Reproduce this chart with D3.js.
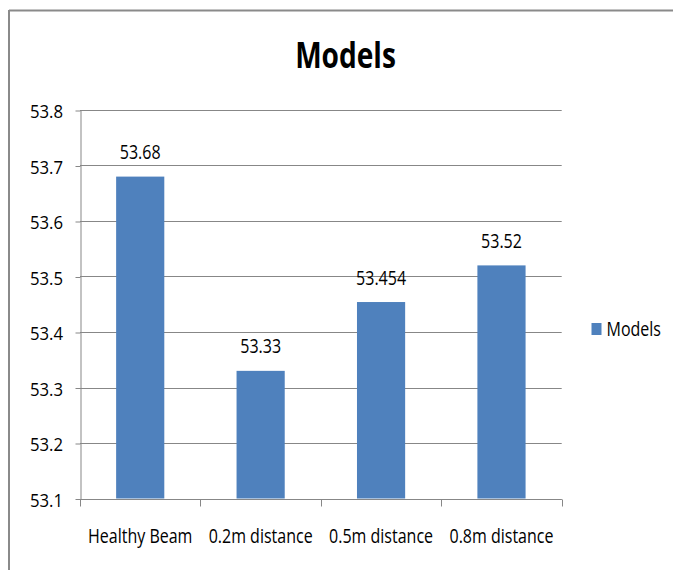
<!DOCTYPE html>
<html>
<head>
<meta charset="utf-8">
<script src="https://cdn.jsdelivr.net/npm/d3@7"></script>
<style>
  html, body { margin: 0; padding: 0; background: #fff; }
  svg { display: block; }
  text { font-family: "Open Sans", "Noto Sans", sans-serif; fill: #000; }
</style>
</head>
<body>
<svg id="chart" width="673" height="570"></svg>
<script>
// Chart data
const categories = ["Healthy Beam", "0.2m distance", "0.5m distance", "0.8m distance"];
const seriesName = "Models";
const values = [53.68, 53.33, 53.454, 53.52];
const valueLabels = ["53.68", "53.33", "53.454", "53.52"];
const yTicks = [53.1, 53.2, 53.3, 53.4, 53.5, 53.6, 53.7, 53.8];
const yDomain = [53.1, 53.8];

const W = 673, H = 570;
const plot = { left: 80, right: 561.7, top: 110, bottom: 498.5 };
const barColor = "#4f81bd";
const gridColor = "#878787";
const textScale = 0.8;

const svg = d3.select("#chart");

// Chart frame (top and left edges)
svg.append("line").attr("x1", 9).attr("x2", W).attr("y1", 10.5).attr("y2", 10.5)
  .attr("stroke", "#8a8a8a").attr("stroke-width", 2);
svg.append("line").attr("x1", 9).attr("x2", 9).attr("y1", 10).attr("y2", H)
  .attr("stroke", "#8a8a8a").attr("stroke-width", 2);

const x = d3.scaleBand().domain(categories).range([plot.left, plot.right])
  .paddingInner(0.6).paddingOuter(0.3);
const y = d3.scaleLinear().domain(yDomain).range([plot.bottom, plot.top]);

// Horizontally condensed text helper
function label(g, tx, ty, str, opts) {
  const o = Object.assign({ size: 20, anchor: "middle", sx: textScale, weight: "normal" }, opts || {});
  return g.append("text")
    .attr("transform", `translate(${tx},${ty}) scale(${o.sx},1)`)
    .attr("text-anchor", o.anchor)
    .attr("font-size", o.size)
    .attr("font-weight", o.weight)
    .text(str);
}

// Title
label(svg, 345.5, 68.3, seriesName, { size: 36, weight: "bold", sx: 0.78 });

// Gridlines
svg.append("g").selectAll("line").data(yTicks).join("line")
  .attr("x1", plot.left).attr("x2", plot.right)
  .attr("y1", d => Math.round(y(d)) + 0.5).attr("y2", d => Math.round(y(d)) + 0.5)
  .attr("stroke", gridColor).attr("stroke-width", 1);

// Y axis
const yAxis = svg.append("g")
  .attr("transform", `translate(${plot.left + 0.5},0.5)`)
  .call(d3.axisLeft(y).tickValues(yTicks).tickSize(5).tickSizeOuter(0).tickFormat(d3.format(".1f")));
yAxis.select(".domain").attr("stroke", gridColor);
yAxis.selectAll(".tick line").attr("stroke", gridColor);
yAxis.selectAll(".tick text").remove();
yTicks.forEach(t => {
  label(svg, 63, y(t) + 8, d3.format(".1f")(t), { size: 19, anchor: "end", sx: 0.88 });
});

// X axis with category boundary ticks
const xAxisG = svg.append("g").attr("transform", `translate(0,${Math.round(plot.bottom) + 0.5})`);
xAxisG.append("line").attr("x1", plot.left).attr("x2", plot.right)
  .attr("stroke", gridColor);
const bounds = categories.map(c => x(c) - (x.step() - x.bandwidth()) / 2);
bounds.push(plot.right);
xAxisG.selectAll("line.b").data(bounds).join("line").attr("class", "b")
  .attr("x1", d => Math.round(d) + 0.5).attr("x2", d => Math.round(d) + 0.5)
  .attr("y1", 0).attr("y2", 7).attr("stroke", gridColor);
categories.forEach(c => {
  label(svg, x(c) + x.bandwidth() / 2, 542.7, c, { size: 20 });
});

// Bars
svg.append("g").selectAll("rect").data(values).join("rect")
  .attr("x", (d, i) => x(categories[i]))
  .attr("width", x.bandwidth())
  .attr("y", d => y(d))
  .attr("height", d => y(yDomain[0]) - y(d))
  .attr("fill", barColor);

// Value labels
values.forEach((v, i) => {
  label(svg, x(categories[i]) + x.bandwidth() / 2, y(v) - 17.5, valueLabels[i], { size: 20 });
});

// Legend
svg.append("rect").attr("x", 591.5).attr("y", 323).attr("width", 10).attr("height", 12).attr("fill", barColor);
label(svg, 606.5, 335.7, seriesName, { size: 20, anchor: "start" });
</script>
</body>
</html>
